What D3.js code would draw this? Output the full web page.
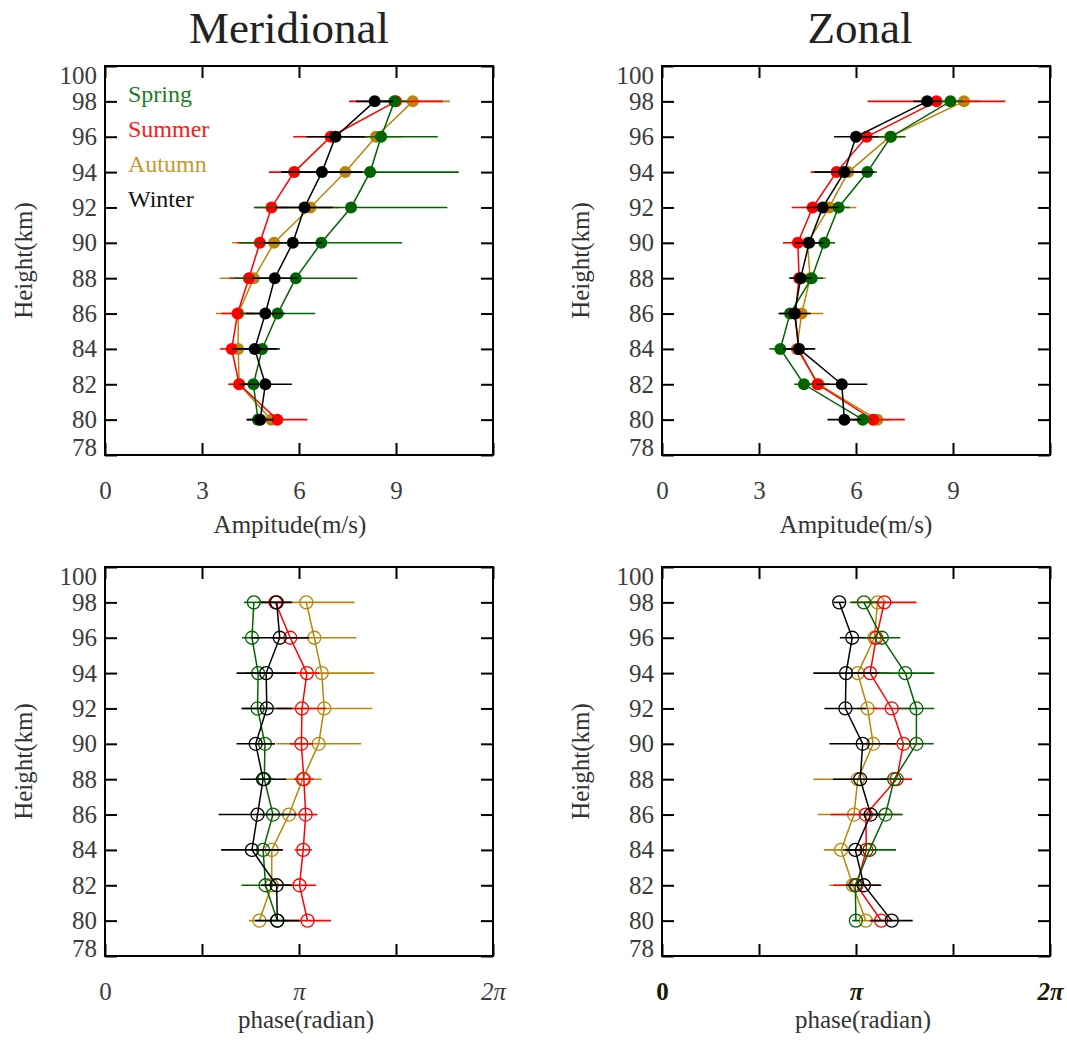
<!DOCTYPE html>
<html>
<head>
<meta charset="utf-8">
<script src="https://cdn.jsdelivr.net/npm/d3@7"></script>
<style>
  body { margin: 0; background: #fff; }
  svg { display: block; }
</style>
</head>
<body>
<svg width="1067" height="1042"></svg>
<script>
// heights (km) of every point, same order in all series rows
const heights = [80, 82, 84, 86, 88, 90, 92, 94, 96, 98];
const heightTicks = [78, 80, 82, 84, 86, 88, 90, 92, 94, 96, 98, 100];
const seasons = ["Spring", "Summer", "Autumn", "Winter"];
const ampTicks = [0, 3, 6, 9, 12];
const ampTickLabels = ["0", "3", "6", "9", ""];
const phaseTickLabels = ["0", "", "π", "", "2π"];

// rows: Spring, Summer, Autumn, Winter
const merAmp = [
  [4.73, 4.59, 4.86, 5.34, 5.90, 6.69, 7.61, 8.20, 8.54, 8.95],
  [5.33, 4.15, 3.92, 4.10, 4.45, 4.79, 5.15, 5.85, 6.98, 9.00],
  [5.14, 4.15, 4.12, 4.12, 4.60, 5.23, 6.35, 7.43, 8.38, 9.52],
  [4.80, 4.96, 4.63, 4.96, 5.25, 5.81, 6.17, 6.71, 7.13, 8.34]
];
const merAmpErr = [
  [0.30, 0.40, 0.55, 1.16, 1.90, 2.50, 2.98, 2.74, 1.75, 0.40],
  [0.93, 0.34, 0.37, 0.50, 0.60, 0.70, 0.55, 0.78, 1.16, 1.45],
  [0.30, 0.30, 0.40, 0.69, 1.05, 1.30, 0.90, 1.00, 0.80, 1.15],
  [0.43, 0.82, 0.70, 0.60, 0.70, 0.90, 0.87, 1.26, 0.90, 0.58]
];
const zonAmp = [
  [6.21, 4.39, 3.66, 3.96, 4.63, 5.02, 5.46, 6.35, 7.08, 8.92],
  [6.53, 4.81, 4.22, 4.12, 4.24, 4.20, 4.66, 5.40, 6.33, 8.49],
  [6.66, 4.85, 4.17, 4.32, 4.58, 4.50, 5.17, 5.76, 7.05, 9.34],
  [5.64, 5.56, 4.24, 4.10, 4.29, 4.55, 4.97, 5.64, 6.00, 8.20]
];
const zonAmpErr = [
  [0.30, 0.30, 0.34, 0.30, 0.35, 0.33, 0.35, 0.30, 0.43, 0.40],
  [0.98, 0.40, 0.30, 0.30, 0.30, 0.46, 0.65, 0.80, 0.50, 2.13],
  [0.40, 0.30, 0.30, 0.67, 0.48, 0.30, 0.84, 0.50, 0.50, 0.50],
  [0.52, 0.79, 0.50, 0.50, 0.35, 0.45, 0.50, 0.93, 0.68, 0.43]
];
// phases in radians
const merPhase = [
  [2.79, 2.60, 2.56, 2.72, 2.58, 2.59, 2.47, 2.48, 2.38, 2.41],
  [3.28, 3.15, 3.21, 3.25, 3.22, 3.18, 3.19, 3.27, 3.00, 2.76],
  [2.50, 2.70, 2.70, 2.98, 3.20, 3.46, 3.55, 3.51, 3.39, 3.26],
  [2.79, 2.78, 2.38, 2.47, 2.56, 2.44, 2.62, 2.61, 2.83, 2.78]
];
const merPhaseErr = [
  [0.16, 0.39, 0.19, 0.19, 0.16, 0.16, 0.25, 0.19, 0.16, 0.16],
  [0.38, 0.27, 0.14, 0.19, 0.16, 0.19, 0.39, 0.20, 0.31, 0.25],
  [0.17, 0.16, 0.17, 0.25, 0.31, 0.69, 0.78, 0.85, 0.68, 0.78],
  [0.36, 0.25, 0.50, 0.63, 0.37, 0.31, 0.41, 0.48, 0.47, 0.25]
];
const zonPhase = [
  [3.14, 3.13, 3.36, 3.62, 3.76, 4.12, 4.12, 3.94, 3.56, 3.27],
  [3.55, 3.15, 3.31, 3.30, 3.80, 3.91, 3.72, 3.37, 3.47, 3.60],
  [3.30, 3.09, 2.90, 3.11, 3.17, 3.42, 3.33, 3.17, 3.44, 3.49],
  [3.72, 3.27, 3.13, 3.38, 3.21, 3.25, 2.97, 2.98, 3.08, 2.87]
];
const zonPhaseErr = [
  [0.06, 0.16, 0.43, 0.28, 0.16, 0.28, 0.29, 0.47, 0.30, 0.23],
  [0.19, 0.38, 0.16, 0.57, 0.25, 0.31, 0.31, 0.31, 0.16, 0.52],
  [0.09, 0.38, 0.28, 0.59, 0.72, 0.16, 0.16, 0.16, 0.16, 0.16],
  [0.34, 0.28, 0.16, 0.16, 0.44, 0.54, 0.34, 0.53, 0.20, 0.09]
];

const colors = { Spring: "#006400", Summer: "#ff0000", Autumn: "#b8860b", Winter: "#000000" };
const legendColors = { Spring: "#1e7b1e", Summer: "#ff1a1a", Autumn: "#c49a2c", Winter: "#111" };
const drawOrder = [2, 1, 0, 3]; // autumn, summer, spring, winter on top
const serif = "'Liberation Serif'";

const svg = d3.select("svg");

const panels = [
  { left: 105, right: 493, top: 66, bottom: 455, kind: "amp", values: merAmp, errs: merAmpErr,
    title: "Meridional", titleX: 289, labelX: 290, yLabelX: 32, legend: true },
  { left: 662, right: 1050, top: 66, bottom: 455, kind: "amp", values: zonAmp, errs: zonAmpErr,
    title: "Zonal", titleX: 860, labelX: 856, yLabelX: 589 },
  { left: 105, right: 493, top: 567, bottom: 956, kind: "phase", values: merPhase, errs: merPhaseErr,
    labelX: 306, yLabelX: 32 },
  { left: 662, right: 1050, top: 567, bottom: 956, kind: "phase", values: zonPhase, errs: zonPhaseErr,
    labelX: 863, yLabelX: 589, boldTicks: true }
];

panels.forEach(p => {
  const g = svg.append("g");
  const amp = p.kind === "amp";

  const x = d3.scaleLinear()
    .domain(amp ? [0, 12] : [0, 2 * Math.PI])
    .range([p.left, p.right]);
  const y = d3.scaleLinear().domain([78, 100]).range([p.bottom, p.top]);

  const xTickVals = amp ? ampTicks : [0, Math.PI / 2, Math.PI, 3 * Math.PI / 2, 2 * Math.PI];
  const xTickText = amp ? ampTickLabels : phaseTickLabels;

  // left axis with labels
  const yl = g.append("g")
    .attr("transform", `translate(${p.left},0)`)
    .call(d3.axisLeft(y).tickValues(heightTicks).tickSize(-12).tickPadding(8).tickFormat(d3.format("d")));
  // right ticks
  const yr = g.append("g")
    .attr("transform", `translate(${p.right},0)`)
    .call(d3.axisRight(y).tickValues(heightTicks).tickSize(-12).tickFormat(""));
  // bottom axis with labels
  const xb = g.append("g")
    .attr("transform", `translate(0,${p.bottom})`)
    .call(d3.axisBottom(x).tickValues(xTickVals).tickSize(-12).tickPadding(26)
      .tickFormat((d, i) => xTickText[i]));
  // top ticks
  const xt = g.append("g")
    .attr("transform", `translate(0,${p.top})`)
    .call(d3.axisTop(x).tickValues(xTickVals).tickSize(-12).tickFormat(""));

  [yl, yr, xb, xt].forEach(a => {
    a.select(".domain").remove();
    a.selectAll(".tick line").attr("stroke", "#000").attr("stroke-width", 2);
    a.selectAll(".tick text")
      .style("font-family", serif)
      .attr("font-size", 25)
      .attr("fill", "#3c3c3c");
  });
  // squeeze end labels inside the frame like the original
  yl.selectAll(".tick text").filter(d => d === 100).attr("transform", "translate(0,9)");
  yl.selectAll(".tick text").filter(d => d === 78).attr("transform", "translate(0,-8)");

  xb.selectAll(".tick text").filter((d, i) => xTickText[i].includes("π"))
    .attr("font-style", "italic");
  if (p.boldTicks) {
    xb.selectAll(".tick text").attr("font-weight", "bold").attr("fill", "#1d1800");
  }

  // frame
  g.append("rect")
    .attr("x", p.left).attr("y", p.top)
    .attr("width", p.right - p.left).attr("height", p.bottom - p.top)
    .attr("fill", "none").attr("stroke", "#000").attr("stroke-width", 2);

  // series
  drawOrder.forEach(si => {
    const col = colors[seasons[si]];
    const pts = heights.map((h, i) => ({ h: h, v: p.values[si][i], e: p.errs[si][i] }));
    const sg = g.append("g");

    sg.selectAll("line.err").data(pts).enter().append("line")
      .attr("class", "err")
      .attr("x1", d => x(d.v - d.e)).attr("x2", d => x(d.v + d.e))
      .attr("y1", d => y(d.h)).attr("y2", d => y(d.h))
      .attr("stroke", col).attr("stroke-width", 1.6);

    sg.append("path")
      .datum(pts)
      .attr("fill", "none")
      .attr("stroke", col)
      .attr("stroke-width", 1.5)
      .attr("d", d3.line().x(d => x(d.v)).y(d => y(d.h)));

    sg.selectAll("circle").data(pts).enter().append("circle")
      .attr("cx", d => x(d.v)).attr("cy", d => y(d.h))
      .attr("r", amp ? 6 : 6.5)
      .attr("fill", amp ? col : "none")
      .attr("stroke", col)
      .attr("stroke-width", amp ? 0 : 1.3);
  });

  // axis titles
  g.append("text")
    .attr("x", p.labelX).attr("y", amp ? 533 : 1028)
    .attr("text-anchor", "middle")
    .style("font-family", serif)
    .attr("font-size", 25).attr("fill", "#333")
    .text(amp ? "Ampitude(m/s)" : "phase(radian)");

  g.append("text")
    .attr("transform", `translate(${p.yLabelX},${(p.top + p.bottom) / 2}) rotate(-90)`)
    .attr("text-anchor", "middle")
    .style("font-family", serif)
    .attr("font-size", 25).attr("fill", "#333")
    .text("Height(km)");

  if (p.title) {
    svg.append("text")
      .attr("x", p.titleX).attr("y", 43)
      .attr("text-anchor", "middle")
      .style("font-family", serif)
      .attr("font-size", 45).attr("fill", "#222")
      .text(p.title);
  }

  if (p.legend) {
    seasons.forEach((s, i) => {
      g.append("text")
        .attr("x", 128).attr("y", 102 + i * 35)
        .style("font-family", serif)
        .attr("font-size", 24)
        .attr("fill", legendColors[s])
        .text(s);
    });
  }
});
</script>
</body>
</html>
